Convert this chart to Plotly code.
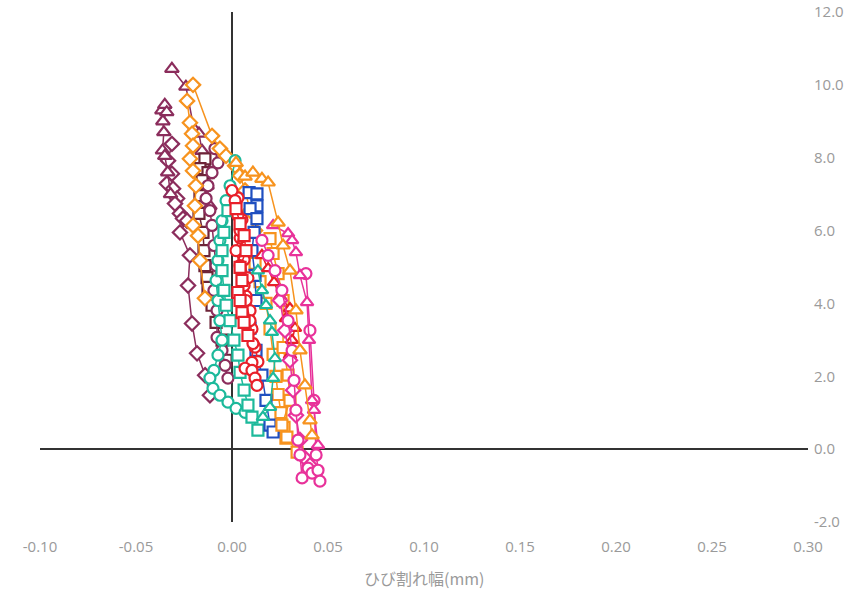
import plotly.graph_objects as go

# ---------------- data (crack width mm, load) ----------------
tri_maroon_a_x = [-0.0313, -0.0240, -0.0198, -0.0172, -0.0156, -0.0141, -0.0130, -0.0115]
tri_maroon_a_y = [10.44, 9.95, 8.79, 8.66, 8.19, 7.78, 7.23, 6.68]

tri_maroon_b_x = [-0.0365, -0.0350, -0.0340, -0.0360, -0.0355, -0.0362, -0.0350, -0.0335, -0.0320]
tri_maroon_b_y = [9.30, 9.45, 9.25, 9.00, 8.70, 8.20, 8.05, 7.60, 7.00]

dia_maroon_x = [-0.0313, -0.0333, -0.0313, -0.0339, -0.0307, -0.0286, -0.0297, -0.0271, -0.0255,
                -0.0234, -0.0271, -0.0219, -0.0229, -0.0208, -0.0182, -0.0140, -0.0115]
dia_maroon_y = [8.38, 7.92, 7.56, 7.29, 7.15, 6.88, 6.74, 6.47, 6.33,
                6.27, 5.95, 5.32, 4.49, 3.45, 2.63, 2.03, 1.48]

sq_dark_x = [-0.0141, -0.0167, -0.0125, -0.0156, -0.0167, -0.0172, -0.0151, -0.0146, -0.0141,
             -0.0130, -0.0125, -0.0104, -0.0083, -0.0052, -0.0031]
sq_dark_y = [7.97, 7.70, 7.59, 7.37, 6.96, 6.47, 5.95, 5.45, 5.04,
             4.71, 4.44, 3.95, 3.48, 2.99, 2.44]

cir_maroon_x = [-0.0089, -0.0052, -0.0073, -0.0104, -0.0125, -0.0135, -0.0115, -0.0104, -0.0094,
                -0.0083, -0.0094, -0.0078, -0.0078, -0.0052, -0.0036, -0.0021]
cir_maroon_y = [8.25, 8.05, 7.86, 7.59, 7.23, 6.88, 6.55, 6.14, 5.59,
                5.04, 4.36, 3.81, 3.07, 2.71, 2.30, 1.95]

dia_orange_a_x = [-0.0203, -0.0104, -0.0063, -0.0031, 0.0016, 0.0042, 0.0068, 0.0094, 0.0120]
dia_orange_a_y = [10.00, 8.60, 8.25, 8.05, 7.78, 7.51, 7.10, 6.55, 6.00]

dia_orange_b_x = [-0.0234, -0.0219, -0.0208, -0.0203, -0.0219, -0.0203, -0.0188, -0.0193, -0.0203,
                  -0.0177, -0.0167, -0.0141]
dia_orange_b_y = [9.56, 8.96, 8.66, 8.33, 7.97, 7.64, 7.23, 6.68, 6.14, 5.86, 5.18, 4.14]

tri_orange_x = [0.0021, 0.0068, 0.0109, 0.0156, 0.0188, 0.0240, 0.0266, 0.0302, 0.0333,
                0.0354, 0.0380, 0.0406, 0.0417]
tri_orange_y = [7.86, 7.48, 7.59, 7.42, 7.32, 6.22, 5.59, 4.90, 3.81, 2.71, 1.75, 0.79, 0.38]

sq_orange_x = [0.0198, 0.0214, 0.0240, 0.0266, 0.0266, 0.0292, 0.0302, 0.0260, 0.0286, 0.0339]
sq_orange_y = [5.78, 5.37, 4.82, 4.08, 2.79, 2.03, 1.34, 0.66, 0.33, -0.08]

sq_orange_b_x = [0.0120, 0.0146, 0.0177, 0.0198, 0.0214, 0.0229, 0.0240, 0.0255, 0.0271, 0.0281]
sq_orange_b_y = [5.10, 4.60, 4.00, 3.30, 2.60, 2.00, 1.50, 1.00, 0.60, 0.30]

cir_red_x = [0.0000, 0.0016, 0.0031, 0.0042, 0.0021, 0.0042, 0.0063, 0.0073, 0.0094,
             0.0109, 0.0104, 0.0068, 0.0104, 0.0120, 0.0130]
cir_red_y = [7.10, 6.82, 6.41, 6.00, 5.45, 5.04, 4.49, 4.08, 3.53,
             2.90, 2.38, 2.22, 2.16, 1.95, 1.75]

cir_red_b_x = [0.0031, 0.0052, 0.0042, 0.0063, 0.0083, 0.0073, 0.0094, 0.0104, 0.0120, 0.0135]
cir_red_b_y = [6.90, 6.30, 5.80, 5.20, 4.70, 4.20, 3.80, 3.30, 2.80, 2.40]

sq_red_x = [0.0021, 0.0042, 0.0063, 0.0073, 0.0042, 0.0052, 0.0031, 0.0042, 0.0052, 0.0063, 0.0083]
sq_red_y = [6.60, 6.19, 5.86, 5.45, 4.99, 4.63, 4.30, 4.08, 3.75, 3.48, 3.12]

tri_red_x = [0.0156, 0.0188, 0.0219, 0.0250, 0.0302, 0.0281, 0.0328, 0.0313, 0.0302]
tri_red_y = [5.32, 4.96, 4.58, 4.19, 3.86, 3.59, 3.32, 2.99, 2.58]

sq_blue_x = [0.0089, 0.0130, 0.0130, 0.0094, 0.0130, 0.0115, 0.0104, 0.0120, 0.0125,
             0.0094, 0.0125, 0.0156, 0.0177, 0.0198, 0.0214]
sq_blue_y = [7.04, 7.01, 6.68, 6.60, 6.33, 5.95, 5.45, 4.77, 4.08,
             3.32, 2.71, 2.03, 1.34, 0.66, 0.47]

cir_teal_x = [0.0016, -0.0010, -0.0031, -0.0052, -0.0063, -0.0073, -0.0083, -0.0073, -0.0063,
              -0.0052, -0.0073, -0.0094, -0.0115, -0.0099, -0.0063, -0.0021, 0.0021, 0.0068]
cir_teal_y = [7.92, 7.23, 6.82, 6.27, 5.73, 5.18, 4.63, 4.08, 3.53,
              2.99, 2.58, 2.16, 1.95, 1.67, 1.48, 1.29, 1.12, 1.01]

sq_teal_x = [-0.0021, -0.0042, -0.0052, -0.0052, -0.0042, -0.0031, -0.0010, 0.0010, 0.0031,
             0.0042, 0.0063, 0.0083, 0.0104, 0.0135]
sq_teal_y = [6.55, 5.95, 5.45, 4.90, 4.36, 3.95, 3.53, 2.99, 2.58, 2.11, 1.62, 1.21, 0.88, 0.52]

tri_teal_x = [0.0135, 0.0156, 0.0177, 0.0198, 0.0208, 0.0224, 0.0214, 0.0198, 0.0161]
tri_teal_y = [4.90, 4.36, 3.95, 3.53, 3.21, 2.49, 1.95, 1.15, 0.88]

tri_mag_x = [0.0214, 0.0292, 0.0313, 0.0333, 0.0354, 0.0391, 0.0401, 0.0417, 0.0427, 0.0448]
tri_mag_y = [6.14, 5.92, 5.73, 5.40, 4.77, 4.03, 2.99, 1.34, 1.07, 0.11]

cir_mag_x = [0.0156, 0.0188, 0.0224, 0.0260, 0.0292, 0.0313, 0.0323, 0.0333, 0.0344, 0.0354,
             0.0365, 0.0396, 0.0417, 0.0448, 0.0458, 0.0438, 0.0427, 0.0406, 0.0385]
cir_mag_y = [5.73, 5.32, 4.90, 4.36, 3.53, 2.71, 1.89, 1.07, 0.25, -0.16,
             -0.79, -0.52, -0.66, -0.58, -0.88, -0.16, 1.34, 3.26, 4.82]

dia_mag_x = [0.0250, 0.0276, 0.0302, 0.0318, 0.0333, 0.0354, 0.0380, 0.0406]
dia_mag_y = [4.08, 3.26, 2.44, 1.62, 0.93, 0.25, -0.25, -0.44]

x_tick_vals = [-0.10, -0.05, 0.00, 0.05, 0.10, 0.15, 0.20, 0.25, 0.30]
x_tick_text = ["-0.10", "-0.05", "0.00", "0.05", "0.10", "0.15", "0.20", "0.25", "0.30"]
y_tick_vals = [-2, 0, 2, 4, 6, 8, 10, 12]
y_tick_text = ["-2.0", "0.0", "2.0", "4.0", "6.0", "8.0", "10.0", "12.0"]
x_title = "ひび割れ幅(mm)"

# ---------------- styling ----------------
MAROON = "#8B2D5C"
DARK = "#6E2438"
ORANGE = "#F7931E"
RED = "#E8202A"
BLUE = "#1F4FC0"
TEAL = "#1DB99B"
MAG = "#E8329A"

series = [
    (dia_maroon_x, dia_maroon_y, MAROON, "diamond", 11),
    (tri_maroon_b_x, tri_maroon_b_y, MAROON, "triangle-up", 12),
    (tri_maroon_a_x, tri_maroon_a_y, MAROON, "triangle-up", 12),
    (sq_dark_x, sq_dark_y, DARK, "square", 11),
    (cir_maroon_x, cir_maroon_y, MAROON, "circle", 11),
    (dia_orange_b_x, dia_orange_b_y, ORANGE, "diamond", 11),
    (dia_orange_a_x, dia_orange_a_y, ORANGE, "diamond", 11),
    (cir_teal_x, cir_teal_y, TEAL, "circle", 11),
    (sq_teal_x, sq_teal_y, TEAL, "square", 11),
    (sq_orange_b_x, sq_orange_b_y, ORANGE, "square", 11),
    (sq_blue_x, sq_blue_y, BLUE, "square", 11),
    (cir_red_b_x, cir_red_b_y, RED, "circle", 11),
    (cir_red_x, cir_red_y, RED, "circle", 11),
    (sq_red_x, sq_red_y, RED, "square", 11),
    (tri_teal_x, tri_teal_y, TEAL, "triangle-up", 11),
    (sq_orange_x, sq_orange_y, ORANGE, "square", 11),
    (tri_red_x, tri_red_y, RED, "triangle-up", 11),
    (dia_mag_x, dia_mag_y, MAG, "diamond", 11),
    (cir_mag_x, cir_mag_y, MAG, "circle", 11),
    (tri_mag_x, tri_mag_y, MAG, "triangle-up", 11),
    (tri_orange_x, tri_orange_y, ORANGE, "triangle-up", 12),
]

fig = go.Figure()
for xs, ys, col, sym, sz in series:
    fig.add_trace(go.Scatter(
        x=xs, y=ys, mode="lines+markers",
        line=dict(color=col, width=1.5),
        marker=dict(symbol=sym, size=sz, color="white", line=dict(color=col, width=2.2)),
        showlegend=False, hoverinfo="skip",
    ))

tick_font = dict(family="Open Sans, Lato, sans-serif", size=15, color="#9a9a9a")
fig.update_layout(
    width=857, height=590,
    margin=dict(l=40, r=49, t=12, b=68),
    paper_bgcolor="white", plot_bgcolor="white",
    xaxis=dict(
        range=[-0.10, 0.30], tickvals=x_tick_vals, ticktext=x_tick_text,
        showgrid=False, showline=False, ticks="", automargin=False,
        zeroline=True, zerolinecolor="#333333", zerolinewidth=1.5,
        tickfont=tick_font, ticklabelstandoff=14,
    ),
    yaxis=dict(
        range=[-2, 12], tickvals=y_tick_vals, ticktext=y_tick_text, side="right",
        showgrid=False, showline=False, ticks="", automargin=False,
        zeroline=True, zerolinecolor="#333333", zerolinewidth=1.5,
        tickfont=tick_font, ticklabelstandoff=5,
    ),
    annotations=[dict(
        text=x_title, xref="paper", yref="paper", x=0.5, y=-(578 - 522) / 510,
        xanchor="center", yanchor="middle", showarrow=False,
        font=dict(family="Noto Sans CJK JP, sans-serif", size=16, color="#9a9a9a"),
    )],
)

fig.write_html("out.html")
